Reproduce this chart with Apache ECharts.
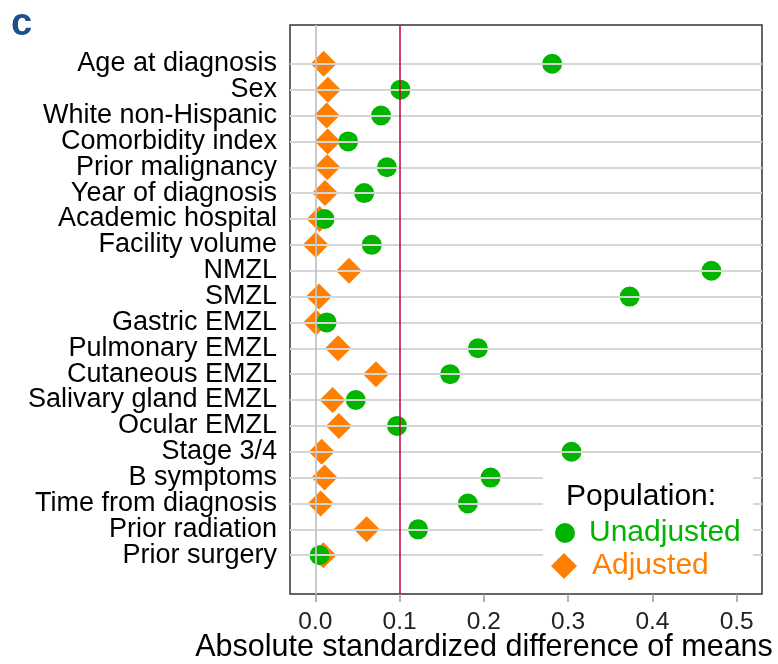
<!DOCTYPE html>
<html>
<head>
<meta charset="utf-8">
<script src="https://cdn.jsdelivr.net/npm/echarts@6/dist/echarts.min.js"></script>
<style>
  html, body { margin: 0; padding: 0; background: #fff; }
  #chart { width: 778px; height: 664px; }
</style>
</head>
<body>
<div id="chart"></div>
<script>
// Covariates, listed top to bottom
const rowLabels = [
  'Age at diagnosis', 'Sex', 'White non-Hispanic', 'Comorbidity index',
  'Prior malignancy', 'Year of diagnosis', 'Academic hospital', 'Facility volume',
  'NMZL', 'SMZL', 'Gastric EMZL', 'Pulmonary EMZL', 'Cutaneous EMZL',
  'Salivary gland EMZL', 'Ocular EMZL', 'Stage 3/4', 'B symptoms',
  'Time from diagnosis', 'Prior radiation', 'Prior surgery'
];

// Absolute standardized difference of means per covariate
const unadjusted = [
  0.281, 0.101, 0.078, 0.039, 0.085, 0.058, 0.011, 0.067, 0.470, 0.373,
  0.0135, 0.193, 0.160, 0.048, 0.097, 0.304, 0.208, 0.181, 0.122, 0.005
];
const adjusted = [
  0.010, 0.015, 0.0135, 0.0147, 0.0143, 0.0115, 0.005, 0.0005, 0.040, 0.0044,
  0.001, 0.027, 0.072, 0.0206, 0.028, 0.0076, 0.011, 0.0064, 0.061, 0.0095
];

const xTicks = [0, 0.1, 0.2, 0.3, 0.4, 0.5];
const threshold = 0.1;

const GREEN = '#00b400';
const ORANGE = '#ff7f00';
const FONT = '"Liberation Sans", Arial, sans-serif';

const rowIdx = rowLabels.map((_, i) => i);
const toPoints = arr => arr.map((v, i) => [v, i]);

// Row labels are split over two identical left axes (even / odd rows) so
// that neighbouring labels never collide and none get dropped.
const rowAxis = parity => ({
  type: 'value',
  position: 'left',
  offset: 0,
  inverse: true,
  min: -1.5, max: 20.5,
  axisLine: { show: false, onZero: false },
  axisTick: { show: false },
  splitLine: { show: false },
  axisLabel: {
    customValues: rowIdx.filter(i => i % 2 === parity),
    showMinLabel: true, showMaxLabel: true, hideOverlap: false,
    formatter: v => rowLabels[Math.round(v)] || '',
    fontSize: 27, color: '#000', margin: 13, fontFamily: FONT
  }
});

const chart = echarts.init(document.getElementById('chart'), null, { renderer: 'canvas' });

chart.setOption({
  animation: false,
  backgroundColor: '#fff',
  textStyle: { fontFamily: FONT },
  title: [
    {
      text: 'c', left: 11, top: 6, padding: 0, z: 100,
      textStyle: { fontSize: 38, fontWeight: 'bold', color: '#1d4f8a', fontFamily: FONT }
    },
    {
      text: 'Population:', left: 566, top: 482, padding: 0, z: 100,
      textStyle: { fontSize: 30, fontWeight: 'normal', color: '#000', fontFamily: FONT }
    }
  ],
  // white panel behind the legend, hiding the row guides there
  graphic: {
    elements: [{
      type: 'rect',
      z: 50,
      silent: true,
      shape: { x: 543, y: 466, width: 210, height: 126 },
      style: { fill: '#fff' }
    }]
  },
  grid: {
    left: 290, top: 25, width: 472, height: 569,
    show: true, borderColor: '#333', borderWidth: 1.5,
    backgroundColor: 'transparent',
    outerBoundsMode: 'none'
  },
  legend: [
    {
      data: [{ name: 'Unadjusted', textStyle: { color: GREEN } }],
      left: 555, top: 518,
      padding: 0, z: 100,
      itemWidth: 20, itemHeight: 20,
      icon: 'circle',
      selectedMode: false,
      textStyle: { fontSize: 30, fontFamily: FONT, padding: [0, 0, 0, 9], lineHeight: 30 }
    },
    {
      data: [{ name: 'Adjusted', textStyle: { color: ORANGE } }],
      left: 551, top: 551,
      padding: 0, z: 100,
      itemWidth: 26, itemHeight: 26,
      icon: 'diamond',
      selectedMode: false,
      textStyle: { fontSize: 30, fontFamily: FONT, padding: [0, 0, 0, 10], lineHeight: 30 }
    }
  ],
  xAxis: {
    type: 'value',
    min: -0.03, max: 0.53,
    axisLine: { show: false, onZero: false },
    axisTick: {
      show: true, customValues: xTicks, length: 8,
      lineStyle: { color: '#999', width: 1.5 }
    },
    splitLine: { show: false },
    axisLabel: {
      customValues: xTicks,
      formatter: v => v.toFixed(1),
      fontSize: 24.5, color: '#222', margin: 16, fontFamily: FONT
    },
    name: 'Absolute standardized difference of means',
    nameLocation: 'middle',
    nameGap: 38,
    nameMoveOverlap: false,
    nameTextStyle: { fontSize: 30.5, color: '#000', fontFamily: FONT, padding: [0, 84, 0, 0] }
  },
  yAxis: [rowAxis(0), rowAxis(1)],
  series: [
    {
      // reference lines: row guides, zero line and the 0.1 threshold
      type: 'scatter',
      data: [],
      silent: true,
      z: 1,
      markLine: {
        silent: true,
        symbol: 'none',
        animation: false,
        label: { show: false },
        data: [
          ...rowIdx.map(i => ({ yAxis: i, lineStyle: { color: '#d6d6d6', width: 1.8, type: 'solid' } })),
          { xAxis: 0, lineStyle: { color: '#c4c4c4', width: 1.8, type: 'solid' } },
          { xAxis: threshold, lineStyle: { color: '#c8003c', width: 1.5, type: 'solid' } }
        ]
      }
    },
    {
      name: 'Adjusted',
      type: 'scatter',
      symbol: 'diamond',
      symbolSize: 26,
      itemStyle: { color: ORANGE, opacity: 1 },
      z: 3,
      data: toPoints(adjusted)
    },
    {
      name: 'Unadjusted',
      type: 'scatter',
      symbol: 'circle',
      symbolSize: 20,
      itemStyle: { color: GREEN, opacity: 1 },
      z: 3,
      data: toPoints(unadjusted)
    }
  ]
});
</script>
</body>
</html>
